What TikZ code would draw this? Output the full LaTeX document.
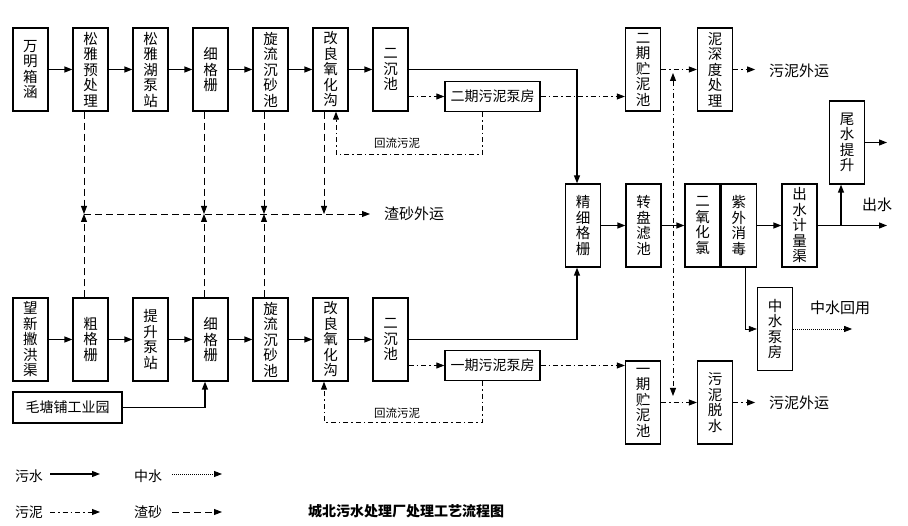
\documentclass[tikz,border=0pt]{standalone}
\usepackage{fontspec}
\setmainfont{Noto Sans CJK SC}
\usetikzlibrary{arrows.meta,calc}
\begin{document}
\begin{tikzpicture}[x=1pt,y=-1pt,
  >={Triangle[length=8pt,width=6pt]},
  box/.style={draw,line width=1.3pt,minimum width=35pt,minimum height=83pt,inner sep=0pt,align=center,font=\fontsize{14.5}{15.5}\selectfont},
  hbox/.style={draw,line width=1.3pt,minimum width=95pt,minimum height=30pt,inner sep=0pt,font=\fontsize{14}{15}\selectfont},
  flow/.style={line width=1.3pt,->},
  sludge/.style={line width=0.9pt,dash pattern=on 5pt off 3pt on 1.5pt off 3pt,->},
  sand/.style={line width=0.9pt,dash pattern=on 7pt off 4pt,->},
  reuse/.style={line width=0.9pt,dash pattern=on 1pt off 1pt,->},
  thin/.style={line width=0.6pt,->},
  lbl/.style={font=\fontsize{15}{15}\selectfont,inner sep=0pt},
  small/.style={font=\fontsize{11.5}{12}\selectfont,inner sep=0pt}
]
\useasboundingbox (0,0) rectangle (908,526);
% top row
\node[box] (wm) at (30.5,69.5) {万\\明\\箱\\涵};
\node[box] (sy) at (90.5,69.5) {松\\雅\\预\\处\\理};
\node[box] (sh) at (150.5,69.5) {松\\雅\\湖\\泵\\站};
\node[box] (xa) at (210.5,69.5) {细\\格\\栅};
\node[box] (xla) at (270.5,69.5) {旋\\流\\沉\\砂\\池};
\node[box] (oxa) at (330.5,69.5) {改\\良\\氧\\化\\沟};
\node[box] (eca) at (390.5,69.5) {二\\沉\\池};
\node[hbox] (pfa) at (492.5,96.5) {二期污泥泵房};
\node[box] (zna) at (643,69.5) {二\\期\\贮\\泥\\池};
\node[box] (sd) at (715,69.5) {泥\\深\\度\\处\\理};
\node[box] (wt) at (847,142.5) {尾\\水\\提\\升};
% middle row
\node[box] (jx) at (583,225.5) {精\\细\\格\\栅};
\node[box] (zp) at (643.5,225.5) {转\\盘\\滤\\池};
\node[box] (cl) at (702.5,225.5) {二\\氧\\化\\氯};
\node[box,anchor=west] (uv) at (cl.east) {紫\\外\\消\\毒};
\node[box] (cs) at (799.5,225.5) {出\\水\\计\\量\\渠};
\node[box] (zs) at (775,329) {中\\水\\泵\\房};
% bottom row
\node[box] (wx) at (30.5,339.5) {望\\新\\撇\\洪\\渠};
\node[box] (cg) at (90.5,339.5) {粗\\格\\栅};
\node[box] (ts) at (150.5,339.5) {提\\升\\泵\\站};
\node[box] (xb) at (210.5,339.5) {细\\格\\栅};
\node[box] (xlb) at (270.5,339.5) {旋\\流\\沉\\砂\\池};
\node[box] (oxb) at (330.5,339.5) {改\\良\\氧\\化\\沟};
\node[box] (ecb) at (390.5,339.5) {二\\沉\\池};
\node[hbox] (pfb) at (492.5,365.5) {一期污泥泵房};
\node[box] (znb) at (643,402.5) {一\\期\\贮\\泥\\池};
\node[box] (tsl) at (715,402.5) {污\\泥\\脱\\水};
\node[draw,line width=1.3pt,minimum width=109pt,minimum height=31pt,inner sep=0pt,font=\fontsize{14}{15}\selectfont] (mt) at (67.5,407.5) {毛塘铺工业园};

% sewage flow arrows
\foreach \a/\b in {wm/sy,sy/sh,sh/xa,xa/xla,xla/oxa,oxa/eca,wx/cg,cg/ts,ts/xb,xb/xlb,xlb/oxb,oxb/ecb,jx/zp,zp/cl,uv/cs}
  \draw[flow] (\a.east) -- (\b.west);
\draw[flow] (eca.east) -| ([xshift=-6pt]jx.north);
\draw[flow] (ecb.east) -| ([xshift=-6pt]jx.south);
\draw[flow] (mt.east) -| ([xshift=-5.5pt]xb.south);
\coordinate (out) at (887,225.5);
\coordinate (br) at (841,225.5);
\coordinate (wout) at (887,142.5);
\draw[flow] (cs.east) -- (out);
\draw[flow] (br) -- (br |- wt.south);
\draw[flow] (wt.east) -- (wout);

% sludge
\draw[sludge] (eca.east |- pfa.west) -- (pfa.west);
\draw[sludge] (pfa.east) -- (pfa.east -| zna.west);
\draw[sludge] ([xshift=-10.5pt]pfa.south) -- ++(0,42) -| ([xshift=5.5pt]oxa.south);
\node[small] (rl1) at (397,143) {回流污泥};
\draw[sludge] (ecb.east |- pfb.west) -- (pfb.west);
\draw[sludge] (pfb.east) -- (pfb.east -| znb.west);
\draw[sludge] ([xshift=-10.5pt]pfb.south) -- ++(0,41) -| ([xshift=-6.5pt]oxb.south);
\node[small] (rl2) at (397,413) {回流污泥};
\draw[sludge] (zna.east) -- (sd.west);
\draw[sludge] (znb.east) -- (tsl.west);
\draw[sludge] (sd.east) -- ++(22,0);
\draw[sludge] (tsl.east) -- ++(22,0);
\node[lbl] (wy1) at (799,71) {污泥外运};
\node[lbl] (wy2) at (799,403) {污泥外运};
\coordinate (v1) at (673,73);
\coordinate (v2) at (673,396);
\draw[sludge,<->] (v1) -- (v2);

% sand
\coordinate (s1) at (84,214);
\coordinate (s2) at (204,214);
\coordinate (s3) at (264,214);
\coordinate (s4) at (324,214);
\coordinate (s5) at (370,214);
\draw[sand] (s1) -- (s5);
\draw[sand] ([xshift=-6.5pt]sy.south) -- (s1);
\draw[sand] ([xshift=-6.5pt]xa.south) -- (s2);
\draw[sand] ([xshift=-6.5pt]xla.south) -- (s3);
\draw[sand] ([xshift=-6.5pt]oxa.south) -- (s4);
\draw[sand] ([xshift=-6.5pt]cg.north) -- (s1);
\draw[sand] ([xshift=-6.5pt]xb.north) -- (s2);
\draw[sand] ([xshift=-6.5pt]xlb.north) -- (s3);
\node[lbl] (zs1) at (414,214) {渣砂外运};

% reuse water
\draw[thin] ([xshift=6pt]uv.south) |- (zs.west);
\draw[reuse] (zs.east) -- ++(59,0);
\node[lbl] (zy) at (840,308) {中水回用};
\node[lbl] (cw) at (877,205) {出水};

% legend
\node[lbl,font=\fontsize{14}{14}\selectfont] (lg1) at (29,476) {污水};
\node[lbl,font=\fontsize{14}{14}\selectfont] (lg2) at (148,476) {中水};
\node[lbl,font=\fontsize{14}{14}\selectfont] (lg3) at (29,512) {污泥};
\node[lbl,font=\fontsize{14}{14}\selectfont] (lg4) at (148,512) {渣砂};
\coordinate (a1) at (50,474); \coordinate (b1) at (100,474);
\coordinate (a2) at (172,474); \coordinate (b2) at (222,474);
\coordinate (a3) at (50,512); \coordinate (b3) at (100,512);
\coordinate (a4) at (172,512); \coordinate (b4) at (222,512);
\draw[flow] (a1) -- (b1);
\draw[reuse] (a2) -- (b2);
\draw[sludge] (a3) -- (b3);
\draw[sand] (a4) -- (b4);
\node[inner sep=0pt,font=\bfseries\fontsize{14}{14}\selectfont] (title) at (406,511) {城北污水处理厂处理工艺流程图};
\end{tikzpicture}
\end{document}
